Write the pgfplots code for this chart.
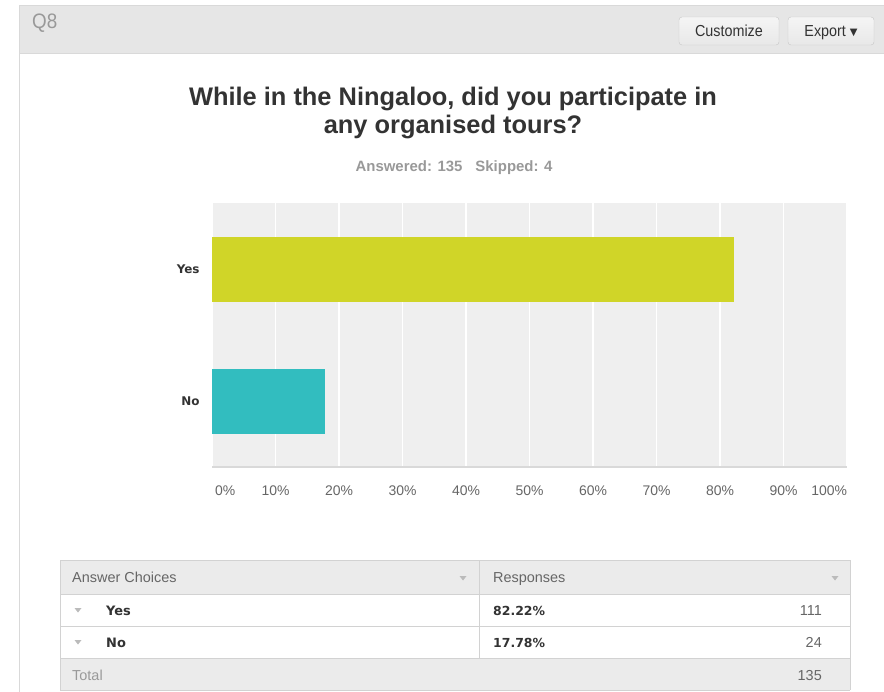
\documentclass[border=0pt]{standalone}
\usepackage{fontspec}
\setmainfont{Liberation Sans}
\newfontfamily\narrow[FakeStretch=0.9]{Liberation Sans}
\newfontfamily\dv{DejaVu Sans}
\usepackage{pgfplots}
\pgfplotsset{compat=1.18}
\definecolor{hdrgray}{HTML}{E6E6E6}
\definecolor{hdrline}{HTML}{D9D9D9}
\definecolor{plotbg}{HTML}{EFEFEF}
\definecolor{yescol}{RGB}{208,213,40}
\definecolor{nocol}{RGB}{50,189,191}
\definecolor{dark}{HTML}{333333}
\definecolor{tickgray}{HTML}{666666}
\definecolor{lightgray}{HTML}{999999}
\definecolor{tblrow}{HTML}{EBEBEB}
\definecolor{tblline}{HTML}{D2D2D2}
\definecolor{tri}{HTML}{BBBBBB}
\newcommand\fs[1]{\fontsize{#1}{#1}\selectfont}
\begin{document}
\begin{tikzpicture}
\begin{scope}[x=1bp,y=-1bp]
\useasboundingbox (0,0) rectangle (884,692);
\fill[white] (0,0) rectangle (884,692);
% panel
\draw[hdrline, fill=hdrgray] (19,5) rectangle (890,53);
\draw[hdrline] (19,53) -- (19,695);
\node[anchor=west, text=lightgray, inner sep=0pt] at (32,23) {\narrow\fs{21}Q8};
% buttons
\draw[rounded corners=3bp, draw=black!22, top color=white!96!black, bottom color=black!9] (679,17) rectangle (779,45);
\draw[rounded corners=3bp, draw=black!22, top color=white!96!black, bottom color=black!9] (788,17) rectangle (874,45);
\node[anchor=base, text=dark, inner sep=0pt] at (729,36.5) {\narrow\fs{16}Customize};
\node[anchor=base, text=dark, inner sep=0pt] at (831,36.5) {\narrow\fs{16}Export {\dv\fs{10}\raisebox{1bp}{▼}}};
% title
\node[anchor=base, text=dark, inner sep=0pt] at (453,106) {\bfseries\fs{25.5}While in the Ningaloo, did you participate in};
\node[anchor=base, text=dark, inner sep=0pt] at (453,134) {\bfseries\fs{25.5}any organised tours?};
\node[anchor=base, text=lightgray, inner sep=0pt] at (454,172) {\bfseries\fs{15}Answered: 135\hspace{13bp}Skipped: 4};
% table
\fill[tblrow] (60,560) rectangle (850,594);
\fill[tblrow] (60,658) rectangle (850,690);
\foreach \yy in {560,594,626,658,690} \draw[tblline, line width=1bp] (60,\yy) -- (850,\yy);
\draw[tblline, line width=0.8bp] (60,560) -- (60,690);
\draw[tblline, line width=0.8bp] (850,560) -- (850,690);
\draw[tblline, line width=1bp] (479,560) -- (479,658);
\foreach \xx/\yy in {463/578, 835/578, 78/610, 78/642}
  \fill[tri] (\xx-3.5,\yy-2) -- (\xx+3.5,\yy-2) -- (\xx,\yy+2.5) -- cycle;
\node[anchor=base west, text=tickgray, inner sep=0pt] at (72,582) {\fs{14.5}Answer Choices};
\node[anchor=base west, text=tickgray, inner sep=0pt] at (493,582) {\fs{14.5}Responses};
\node[anchor=base west, text=dark, inner sep=0pt] at (106,615) {\dv\bfseries\fs{13}Yes};
\node[anchor=base west, text=dark, inner sep=0pt] at (106,647) {\dv\bfseries\fs{13}No};
\node[anchor=base west, text=dark, inner sep=0pt] at (493,615) {\dv\bfseries\fs{12.5}82.22\%};
\node[anchor=base west, text=dark, inner sep=0pt] at (493,647) {\dv\bfseries\fs{12.5}17.78\%};
\node[anchor=base east, text=tickgray, inner sep=0pt] at (822,615) {\fs{14.5}111};
\node[anchor=base east, text=tickgray, inner sep=0pt] at (822,647) {\fs{14.5}24};
\node[anchor=base west, text=lightgray, inner sep=0pt] at (72,680) {\fs{14.5}Total};
\node[anchor=base east, text=tickgray, inner sep=0pt] at (822,680) {\fs{14.5}135};
\end{scope}
\begin{axis}[
  at={(212bp,-467bp)}, anchor=south west,
  width=635bp, height=264bp, scale only axis,
  xmin=0, xmax=100, ymin=-0.5, ymax=1.5,
  xbar, bar width=65bp,
  ytick={0,1}, yticklabels={No,Yes},
  xtick={0,10,...,100},
  xticklabels={\makebox[0pt][l]{\hspace{3bp}0\%},10\%,20\%,30\%,40\%,50\%,60\%,70\%,80\%,90\%,\makebox[0pt][r]{100\%}},
  xmajorgrids, major grid style={white, line width=1.2bp},
  axis background/.style={fill=plotbg},
  axis x line*=bottom, axis y line*=left,
  x axis line style={draw=black!15, line width=1.5bp},
  y axis line style={draw=none},
  tick style={draw=none},
  xticklabel style={font=\fs{14}, text=tickgray, inner sep=0pt, anchor=north, yshift=-19bp},
  yticklabel style={font=\dv\bfseries\fs{12}, text=dark, inner sep=0pt, anchor=east, xshift=-8bp},
]
\addplot[fill=yescol, draw=none, bar shift=0pt] coordinates {(82.22,1)};
\addplot[fill=nocol, draw=none, bar shift=0pt] coordinates {(17.78,0)};
\end{axis}
\end{tikzpicture}
\end{document}
